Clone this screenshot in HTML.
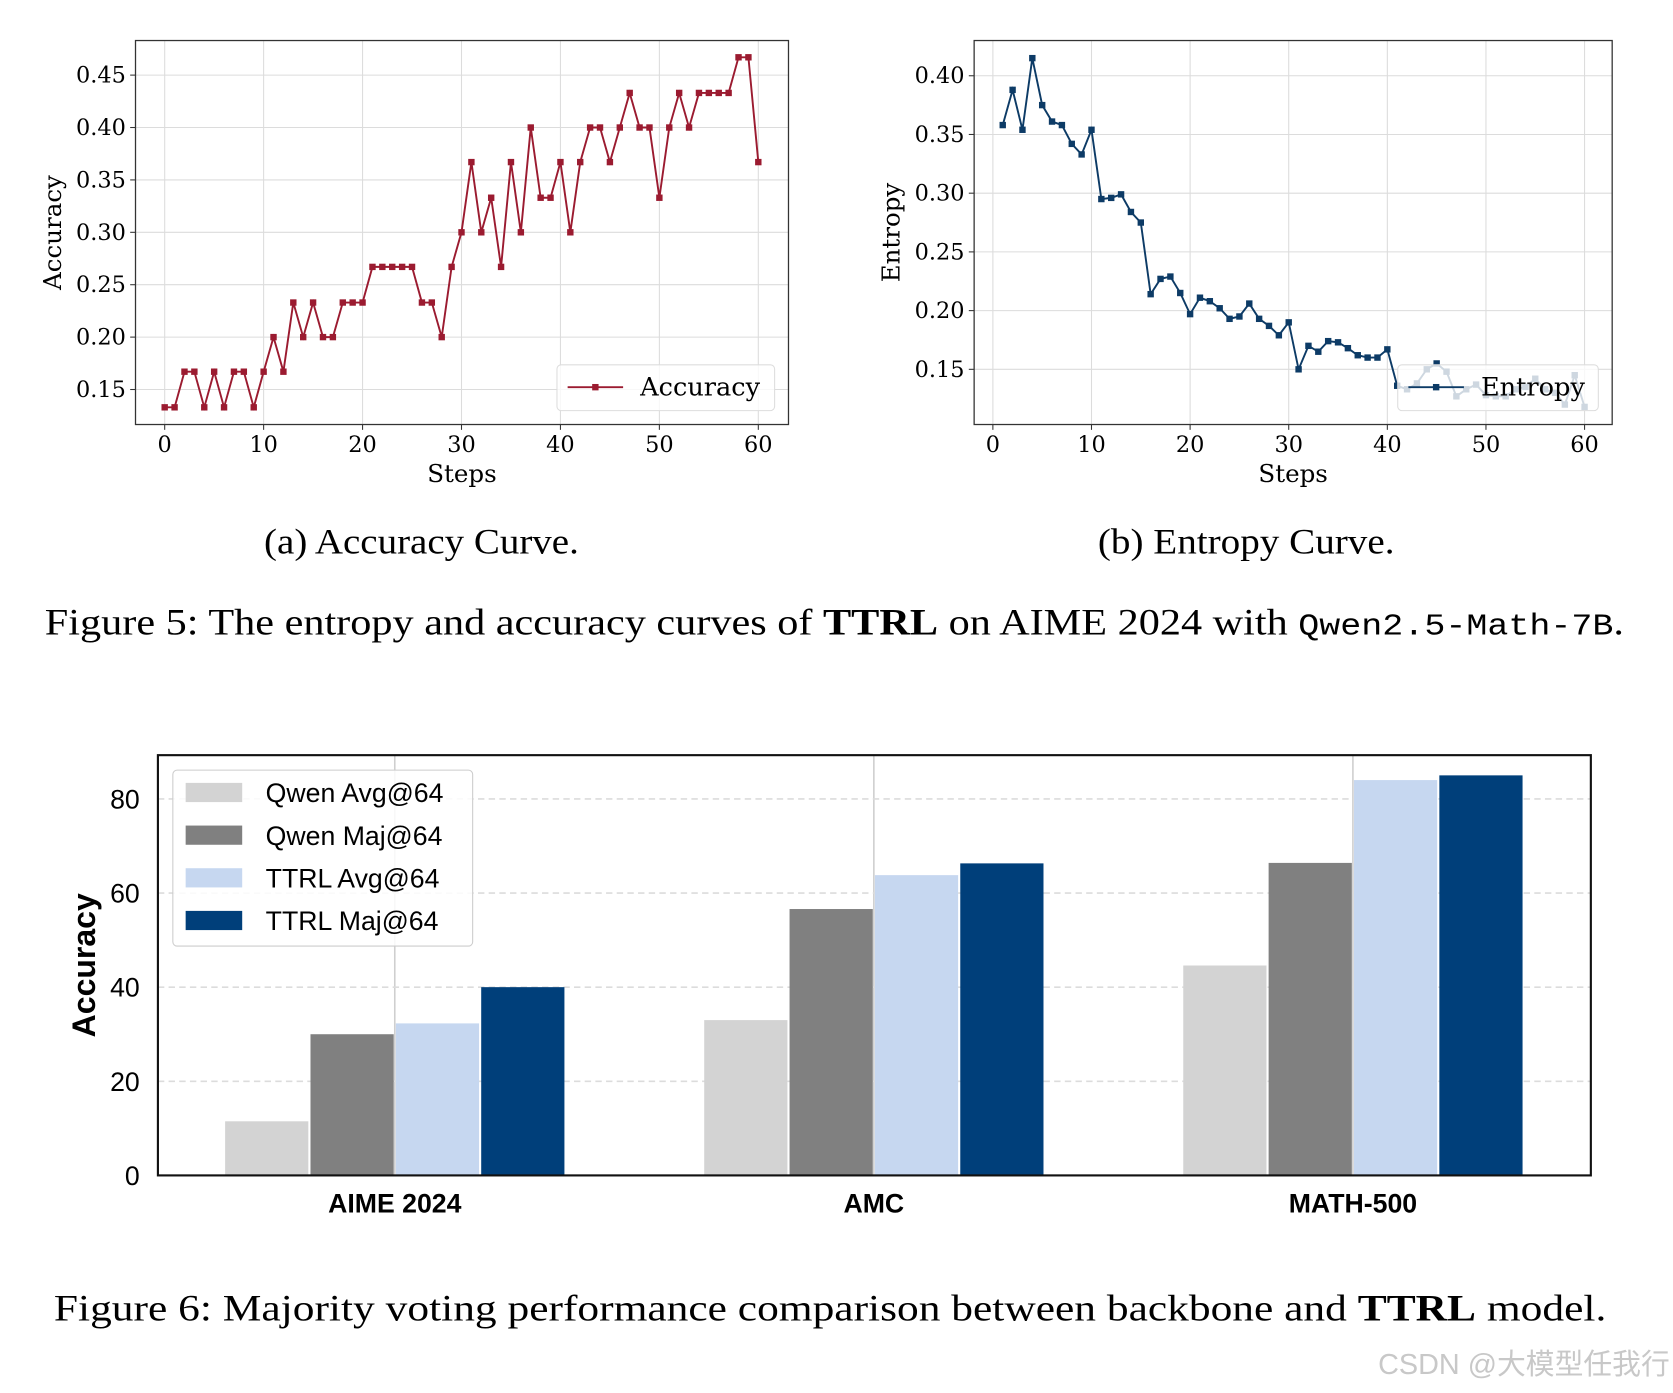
<!DOCTYPE html>
<html><head><meta charset="utf-8"><style>
html,body{margin:0;padding:0;background:#fff;width:1673px;height:1393px;overflow:hidden}
svg{display:block}
</style></head><body>
<svg id="fig" width="1673" height="1393" viewBox="0 0 1568 1306" preserveAspectRatio="none" xmlns="http://www.w3.org/2000/svg">
<g id="ga"></g>
<g id="gb"></g>
<g id="gc"></g>
<text x="395" y="519" font-size="34" text-anchor="middle" font-family="Liberation Serif,serif" textLength="295" lengthAdjust="spacingAndGlyphs">(a) Accuracy Curve.</text>
<text x="1168" y="519" font-size="34" text-anchor="middle" font-family="Liberation Serif,serif" textLength="278" lengthAdjust="spacingAndGlyphs">(b) Entropy Curve.</text>
<text x="782" y="595" font-size="35" text-anchor="middle" font-family="Liberation Serif,serif" textLength="1480" lengthAdjust="spacingAndGlyphs">Figure 5: The entropy and accuracy curves of <tspan font-weight="bold">TTRL</tspan> on AIME 2024 with <tspan font-family="Liberation Mono,monospace" font-size="29">Qwen2.5-Math-7B</tspan>.</text>
<text x="778" y="1238" font-size="35" text-anchor="middle" font-family="Liberation Serif,serif" textLength="1455" lengthAdjust="spacingAndGlyphs">Figure 6: Majority voting performance comparison between backbone and <tspan font-weight="bold">TTRL</tspan> model.</text>
<text x="1565" y="1288" font-size="27" text-anchor="end" fill="#c8c8c8" font-family="Liberation Sans,Noto Sans CJK SC,sans-serif">CSDN @大模型任我行</text>
</svg>
<script>
const accSteps=[];for(let i=0;i<=60;i++)accSteps.push(i);
const accValues=[.133,.133,.167,.167,.133,.167,.133,.167,.167,.133,.167,.2,.167,.233,.2,.233,.2,.2,.233,.233,.233,.267,.267,.267,.267,.267,.233,.233,.2,.267,.3,.367,.3,.333,.267,.367,.3,.4,.333,.333,.367,.3,.367,.4,.4,.367,.4,.433,.4,.4,.333,.4,.433,.4,.433,.433,.433,.433,.467,.467,.367];
const entSteps=[];for(let i=1;i<=60;i++)entSteps.push(i);
const entValues=[.358,.388,.354,.415,.375,.361,.358,.342,.333,.354,.295,.296,.299,.284,.275,.214,.227,.229,.215,.197,.211,.208,.202,.193,.195,.206,.193,.187,.179,.190,.150,.170,.165,.174,.173,.168,.162,.160,.160,.167,.136,.133,.138,.150,.155,.148,.127,.133,.137,.128,.127,.127,.133,.135,.142,.133,.130,.120,.145,.118];
const accTicks=[0.15,0.20,0.25,0.30,0.35,0.40,0.45];
const entTicks=[0.15,0.20,0.25,0.30,0.35,0.40];
const stepTicks=[0,10,20,30,40,50,60];
const barCats=["AIME 2024","AMC","MATH-500"];
const seriesNames=["Qwen Avg@64","Qwen Maj@64","TTRL Avg@64","TTRL Maj@64"];
const qwenAvg=[11.5,33,44.6];
const qwenMaj=[30,56.6,66.4];
const ttrlAvg=[32.3,63.8,84];
const ttrlMaj=[40,66.3,85];
const barTicks=[0,20,40,60,80];
const NS="http://www.w3.org/2000/svg";
function mk(p,t,a,txt){const e=document.createElementNS(NS,t);for(const k in a)e.setAttribute(k,a[k]);if(txt!==undefined)e.textContent=txt;p.appendChild(e);return e;}
function line(p,xs,ys,cfg){
  const {L,R,T,B,x0,x1,y0,y1,color,yt,yl,legend,lx,lw}=cfg;
  const X=v=>L+(v-x0)/(x1-x0)*(R-L), Y=v=>B-(v-y0)/(y1-y0)*(B-T);
  stepTicks.forEach(t=>{const g=mk(p,'line',{x1:X(t),x2:X(t),y1:T,y2:B,stroke:'#dcdcdc','stroke-width':1});
    mk(p,'line',{x1:X(t),x2:X(t),y1:B,y2:B+5,stroke:'#333'});
    const lb=mk(p,'text',{x:X(t),y:B+26,'font-size':21,'text-anchor':'middle','font-family':'DejaVu Serif,serif'},t);});
  yt.forEach(t=>{mk(p,'line',{x1:L,x2:R,y1:Y(t),y2:Y(t),stroke:'#dcdcdc','stroke-width':1});
    mk(p,'line',{x1:L-5,x2:L,y1:Y(t),y2:Y(t),stroke:'#333'});
    const lb=mk(p,'text',{x:L-9,y:Y(t)+7,'font-size':21,'text-anchor':'end','font-family':'DejaVu Serif,serif'},t.toFixed(2));});
  const pts=xs.map((x,i)=>X(x)+','+Y(ys[i])).join(' ');
  const pl=mk(p,'polyline',{points:pts,fill:'none',stroke:color,'stroke-width':1.8});
  xs.forEach((x,i)=>{const m=mk(p,'rect',{x:X(x)-3,y:Y(ys[i])-3,width:6,height:6,fill:color});});
  const lg=mk(p,'g',{});
  mk(lg,'rect',{x:lx,y:342,width:lw,height:43,rx:4,fill:'#fff','fill-opacity':0.8,stroke:'#ddd'});
  mk(lg,'line',{x1:lx+10,x2:lx+62,y1:363,y2:363,stroke:color,'stroke-width':1.8});
  mk(lg,'rect',{x:lx+33,y:360,width:6,height:6,fill:color});
  mk(lg,'text',{x:lx+78,y:371,'font-size':24,'font-family':'DejaVu Serif,serif'},legend);
  mk(p,'rect',{x:L,y:T,width:R-L,height:B-T,fill:'none',stroke:'#333','stroke-width':1.2});
  const xt=mk(p,'text',{x:(L+R)/2,y:452,'font-size':23,'text-anchor':'middle','font-family':'DejaVu Serif,serif'},'Steps');
  const ytt=mk(p,'text',{x:0,y:0,'font-size':23,'text-anchor':'middle','font-family':'DejaVu Serif,serif',transform:`translate(${yl},${(T+B)/2}) rotate(-90)`},legend);
}
line(document.getElementById('ga'),accSteps,accValues,{L:127,R:739,T:38,B:398,x0:-2.95,x1:63.05,y0:.1166,y1:.483,color:'#9b1b30',yt:accTicks,yl:57,legend:'Accuracy',lx:522,lw:204});
line(document.getElementById('gb'),entSteps,entValues,{L:913,R:1511,T:38,B:398,x0:-1.9,x1:62.8,y0:.103,y1:.430,color:'#0d3b66',yt:entTicks,yl:843,legend:'Entropy',lx:1310,lw:188});
(function(){
  const p=document.getElementById('gc');const L=148,R=1491,T=708,B=1102;
  const Y=v=>B-v/80*(B-749);
  const centers=[370,819,1268], bw=80;
  centers.forEach(c=>mk(p,'line',{x1:c,x2:c,y1:T,y2:B,stroke:'#cfcfcf','stroke-width':1.5}));
  barTicks.forEach(t=>{if(t>0)mk(p,'line',{x1:L,x2:R,y1:Y(t),y2:Y(t),stroke:'#dcdcdc','stroke-width':1.5,'stroke-dasharray':'6,4'});
    const lb=mk(p,'text',{x:131,y:Y(t)+9,'font-size':25,'text-anchor':'end','font-family':'Liberation Sans,sans-serif'},t);});
  const series=[qwenAvg,qwenMaj,ttrlAvg,ttrlMaj], colors=['#d3d3d3','#808080','#c6d7f0','#003f7a'];
  series.forEach((s,si)=>s.forEach((v,ci)=>{const x=centers[ci]-2*bw+si*bw;
    const r=mk(p,'rect',{x:x+1,y:Y(v),width:bw-2,height:B-Y(v),fill:colors[si]});}));
  barCats.forEach((c,i)=>{const t=mk(p,'text',{x:centers[i],y:1137,'font-size':25,'font-weight':'bold','text-anchor':'middle','font-family':'Liberation Sans,sans-serif'},c);});
  mk(p,'rect',{x:L,y:T,width:R-L,height:B-T,fill:'none',stroke:'#111','stroke-width':2});
  const yt=mk(p,'text',{x:0,y:0,'font-size':30,'font-weight':'bold','text-anchor':'middle','font-family':'Liberation Sans,sans-serif',transform:'translate(89,905) rotate(-90)'},'Accuracy');
  const lg=mk(p,'g',{});
  mk(lg,'rect',{x:162,y:722,width:281,height:165,rx:4,fill:'#fff','fill-opacity':0.85,stroke:'#ccc'});
  seriesNames.forEach((n,i)=>{mk(lg,'rect',{x:174,y:734+i*40,width:53,height:18,fill:colors[i]});
    mk(lg,'text',{x:249,y:752+i*40,'font-size':25,'font-family':'Liberation Sans,sans-serif'},n);});
})();
</script>
</body></html>
